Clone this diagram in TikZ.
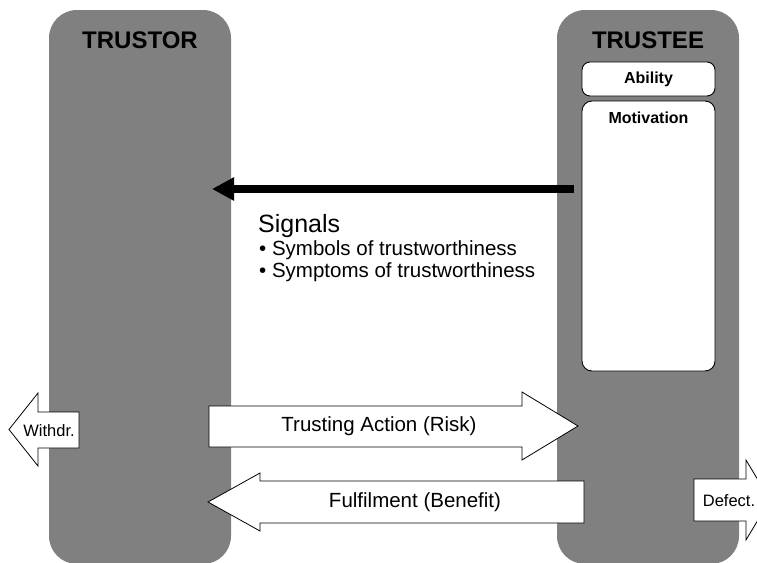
\documentclass[tikz,border=0pt]{standalone}
\usepackage{fontspec}
\setmainfont{Liberation Sans}
\usetikzlibrary{arrows.meta}
\definecolor{colgray}{RGB}{128,128,128}
\begin{document}
\begin{tikzpicture}[x=1pt,y=-1pt,
  column/.style={fill=colgray,draw=none,rounded corners=28pt},
  head/.style={font=\fontsize{24}{28}\selectfont\bfseries,text=black},
  innerbox/.style={fill=white,draw=black,line width=0.9pt,rounded corners=8pt},
  boxlabel/.style={font=\fontsize{16}{19}\selectfont\bfseries},
  blockarrow/.style={fill=white,draw=black,line width=0.8pt,line join=miter},
  arrowlabel/.style={font=\fontsize{20.5}{24}\selectfont},
  smalllabel/.style={font=\fontsize{16.5}{19}\selectfont},
  signalarrow/.style={line width=8pt,-{Triangle[length=22pt,width=22pt]}},
  inner sep=0pt]
\useasboundingbox (0,0) rectangle (757,562);
\fill[white] (0,0) rectangle (757,562);
% columns
\draw[column] (49,10) rectangle (231,564);
\draw[column] (557,10) rectangle (739,564);
\node[head] (trustor) at (140,40) {TRUSTOR};
\node[head] (trustee) at (648,40) {TRUSTEE};
% inner boxes
\draw[innerbox] (582,62) rectangle (715,96);
\node[boxlabel] (ability) at (648.5,79) {Ability};
\draw[innerbox,rounded corners=10pt] (582,101) rectangle (715,371);
\node[boxlabel,anchor=base] (motivation) at (648.5,123) {Motivation};
% signal arrow
\coordinate (sigstart) at (574,189);
\coordinate (sigend) at (212,189);
\draw[signalarrow] (sigstart) -- (sigend);
\node[anchor=base west,font=\fontsize{25}{30}\selectfont] (signals) at (258,232) {Signals};
\node[anchor=base west,font=\fontsize{20.5}{24}\selectfont] (sym1) at (259,255) {• Symbols of trustworthiness};
\node[anchor=base west,font=\fontsize{20.5}{24}\selectfont] (sym2) at (259,277) {• Symptoms of trustworthiness};
% trusting action arrow
\draw[blockarrow] (209,406) -- (522,406) -- (522,392) -- (578,426) -- (522,460) -- (522,447) -- (209,447) -- cycle;
\node[arrowlabel] (trusting) at (379,426.5) {Trusting Action (Risk)};
% fulfilment arrow
\draw[blockarrow] (584,481) -- (260,481) -- (260,473) -- (208,502) -- (260,531) -- (260,523) -- (584,523) -- cycle;
\node[arrowlabel] (fulfil) at (415,502.5) {Fulfilment (Benefit)};
% withdraw arrow
\draw[blockarrow] (79,412) -- (38,412) -- (38,393) -- (9,429.5) -- (38,466) -- (38,448) -- (79,448) -- cycle;
\node[smalllabel] (withdr) at (49,430.5) {Withdr.};
% defect arrow
\draw[blockarrow] (694,479) -- (746,479) -- (746,460) -- (770,500) -- (746,540) -- (746,521) -- (694,521) -- cycle;
\node[smalllabel] (defect) at (729,500.5) {Defect.};
\end{tikzpicture}
\end{document}
